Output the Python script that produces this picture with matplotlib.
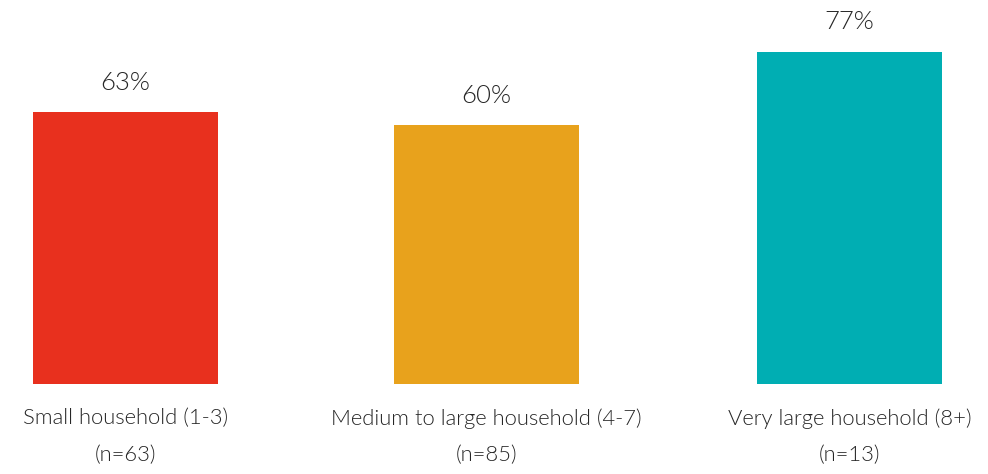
import matplotlib
matplotlib.use("Agg")
import matplotlib.pyplot as plt

categories = ["Small household (1-3)\n(n=63)",
              "Medium to large household (4-7)\n(n=85)",
              "Very large household (8+)\n(n=13)"]
values = [63, 60, 77]
colors = ["#E8301E", "#E8A21C", "#00AEB3"]

plt.rcParams['font.family'] = ['Lato', 'DejaVu Sans']

fig = plt.figure(figsize=(9.88, 4.74), dpi=100)
ax = fig.add_axes([0, 0, 1, 1])
x = [0, 1, 2.005]
bars = ax.bar(x, values, width=0.512, color=colors)

for xi, v in zip(x, values):
    ax.text(xi, v + 6.8, f"{v}%", ha="center", va="center",
            fontsize=18.5, color="#262626", fontweight=300)
for xi, c in zip(x, categories):
    ax.text(xi, -5.6, c, ha="center", va="top", fontsize=15.8,
            color="#262626", linespacing=2.05, fontweight=300)

ax.set_xlim(-0.3476, 2.389)
ax.set_ylim(-20.85, 88.95)
ax.axis("off")
fig.savefig("out.png", dpi=100)
